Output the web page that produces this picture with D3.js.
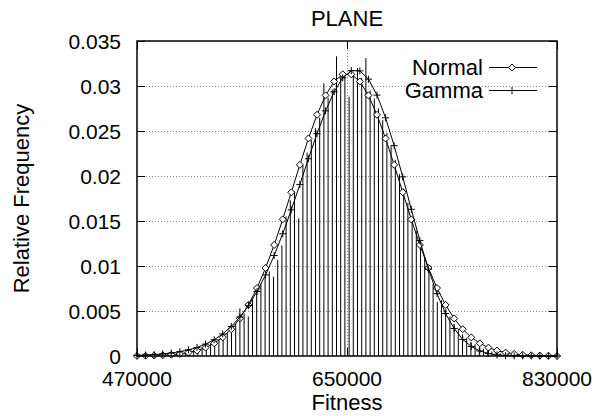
<!DOCTYPE html>
<html>
<head>
<meta charset="utf-8">
<script src="https://cdn.jsdelivr.net/npm/d3@7"></script>
<style>
  body { margin: 0; background: #fff; }
  text { font-family: "Liberation Sans", Arial, Helvetica, sans-serif; fill: #000; }
</style>
</head>
<body>
<svg id="chart" width="610" height="416"></svg>
<script>
// Fitness histogram (relative frequency per bin) with fitted Normal / Gamma curves.

const title  = 'PLANE';
const xLabel = 'Fitness';
const yLabel = 'Relative Frequency';

const xDomain = [470000, 830000];
const yDomain = [0, 0.035];
const xTicks  = [470000, 650000, 830000];
const yTicks  = [0, 0.005, 0.01, 0.015, 0.02, 0.025, 0.03, 0.035];
const yTickLabels = ['0', '0.005', '0.01', '0.015', '0.02', '0.025', '0.03', '0.035'];

// histogram bins: first bin centre and width
const binFirst = 471800;
const binWidth = 3600;
const histValues = [
  0.00005, 0.00006, 0.00008, 0.0001, 0.00011, 0.00014, 0.00016, 0.0002, 0.00026, 0.0003,
  0.00038, 0.00045, 0.00056, 0.00068, 0.0008, 0.00095, 0.0012, 0.0014, 0.0017, 0.0019,
  0.0023, 0.0027, 0.0032, 0.0036, 0.0053, 0.0047, 0.0044, 0.0064, 0.0077, 0.0080,
  0.0088, 0.0094, 0.0088, 0.0107, 0.0123, 0.0155, 0.0173, 0.0183, 0.0153, 0.0212,
  0.0226, 0.0240, 0.0253, 0.0265, 0.0303, 0.0287, 0.0296, 0.0333, 0.0309, 0.0312,
  0.0288, 0.0314, 0.0320, 0.0309, 0.0331, 0.0295, 0.0286, 0.0275, 0.0262, 0.0248,
  0.0233, 0.0218, 0.0202, 0.0186, 0.0170, 0.0154, 0.0139, 0.0124, 0.0110, 0.0096,
  0.0080, 0.0060, 0.0062, 0.0052, 0.0044, 0.0036, 0.0030, 0.0024, 0.0020, 0.0016,
  0.0013, 0.0010, 0.0008, 0.0006, 0.0005, 0.0004, 0.0003, 0.00025, 0.0002, 0.00015,
  0.0001, 0.00008, 0.00006, 0.00005, 0.00004, 0.00003, 0.00002, 0.00002, 0.00001, 0.00001
];

// fitted curves, 50 samples across the x range
const curveSamples = 50;
const normalValues = [
  0.00001, 0.00003, 0.00005, 0.00008, 0.00014, 0.00023, 0.00038, 0.00060, 0.00093, 0.00141,
  0.00207, 0.00298, 0.00417, 0.00568, 0.00755, 0.00978, 0.01234, 0.01518, 0.01819, 0.02124,
  0.02417, 0.02680, 0.02896, 0.03050, 0.03130, 0.03130, 0.03050, 0.02896, 0.02680, 0.02417,
  0.02124, 0.01819, 0.01518, 0.01234, 0.00978, 0.00755, 0.00568, 0.00417, 0.00298, 0.00207,
  0.00141, 0.00093, 0.00060, 0.00038, 0.00023, 0.00014, 0.00008, 0.00005, 0.00003, 0.00001
];
const gammaValues = [
  0.00007, 0.00011, 0.00016, 0.00023, 0.00033, 0.00048, 0.00068, 0.00095, 0.00132, 0.00181,
  0.00245, 0.00328, 0.00432, 0.00560, 0.00716, 0.00901, 0.01116, 0.01358, 0.01624, 0.01905,
  0.02192, 0.02470, 0.02724, 0.02936, 0.03090, 0.03171, 0.03168, 0.03076, 0.02899, 0.02647,
  0.02337, 0.01990, 0.01630, 0.01282, 0.00965, 0.00693, 0.00472, 0.00305, 0.00185, 0.00106,
  0.00056, 0.00028, 0.00012, 0.00005, 0.00002, 0.00001, 0, 0, 0, 0
];

const seriesNames = ['Normal', 'Gamma'];

// ─── Layout ───────────────────────────────────────────────────────────────
const plot = { left: 137, right: 557, top: 41, bottom: 356 };
const fontSize = 22;
const tickFontSize = 21;

const svg = d3.select('#chart');

const x = d3.scaleLinear().domain(xDomain).range([plot.left, plot.right]);
const y = d3.scaleLinear().domain(yDomain).range([plot.bottom, plot.top]);

const sampleX = d3.range(curveSamples)
  .map(k => xDomain[0] + k * (xDomain[1] - xDomain[0]) / (curveSamples - 1));

// ─── Grid (dotted) ────────────────────────────────────────────────────────
const gGrid = svg.append('g')
  .attr('stroke', '#888')
  .attr('stroke-width', 1)
  .attr('stroke-dasharray', '1,2');

gGrid.selectAll('line.h')
  .data(yTicks.slice(1, -1))
  .join('line')
  .attr('class', 'h')
  .attr('x1', plot.left).attr('x2', plot.right)
  .attr('y1', d => Math.round(y(d)) + 0.5).attr('y2', d => Math.round(y(d)) + 0.5);

gGrid.selectAll('line.v')
  .data(xTicks.slice(1, -1))
  .join('line')
  .attr('class', 'v')
  .attr('x1', d => Math.round(x(d)) + 0.5).attr('x2', d => Math.round(x(d)) + 0.5)
  .attr('y1', plot.top).attr('y2', plot.bottom);

// ─── Histogram impulses ───────────────────────────────────────────────────
svg.append('g')
  .attr('stroke', '#000')
  .attr('stroke-width', 1)
  .selectAll('line')
  .data(histValues)
  .join('line')
  .attr('x1', (d, i) => x(binFirst + i * binWidth))
  .attr('x2', (d, i) => x(binFirst + i * binWidth))
  .attr('y1', y(0))
  .attr('y2', d => y(d));

// ─── Curves ───────────────────────────────────────────────────────────────
const line = d3.line()
  .x((d, i) => x(sampleX[i]))
  .y(d => y(d));

const diamond = 'M0,-3.5L3.5,0L0,3.5L-3.5,0Z';
const plus    = 'M-3.5,0H3.5M0,-3.5V3.5';

[normalValues, gammaValues].forEach((vals, s) => {
  svg.append('path')
    .datum(vals)
    .attr('fill', 'none')
    .attr('stroke', '#000')
    .attr('stroke-width', 1)
    .attr('d', line);

  svg.append('g')
    .selectAll('path')
    .data(vals)
    .join('path')
    .attr('transform', (d, i) => `translate(${x(sampleX[i])},${y(d)})`)
    .attr('d', s === 0 ? diamond : plus)
    .attr('fill', s === 0 ? '#fff' : 'none')
    .attr('stroke', '#000')
    .attr('stroke-width', 1);
});

// ─── Border + ticks ───────────────────────────────────────────────────────
svg.append('rect')
  .attr('x', plot.left).attr('y', plot.top)
  .attr('width', plot.right - plot.left)
  .attr('height', plot.bottom - plot.top)
  .attr('fill', 'none')
  .attr('stroke', '#000')
  .attr('stroke-width', 1.5);

const tickLen = 8;
const gTicks = svg.append('g').attr('stroke', '#000').attr('stroke-width', 1);

yTicks.forEach(v => {
  const yy = Math.round(y(v)) + 0.5;
  gTicks.append('line').attr('x1', plot.left).attr('x2', plot.left + tickLen).attr('y1', yy).attr('y2', yy);
  gTicks.append('line').attr('x1', plot.right).attr('x2', plot.right - tickLen).attr('y1', yy).attr('y2', yy);
});
xTicks.forEach(v => {
  const xx = Math.round(x(v)) + 0.5;
  gTicks.append('line').attr('x1', xx).attr('x2', xx).attr('y1', plot.bottom).attr('y2', plot.bottom - tickLen);
  gTicks.append('line').attr('x1', xx).attr('x2', xx).attr('y1', plot.top).attr('y2', plot.top + tickLen);
});

// ─── Tick labels ──────────────────────────────────────────────────────────
svg.append('g')
  .selectAll('text')
  .data(yTicks)
  .join('text')
  .attr('x', plot.left - 16)
  .attr('y', d => y(d))
  .attr('text-anchor', 'end')
  .attr('dominant-baseline', 'central')
  .style('font-size', tickFontSize + 'px')
  .text((d, i) => yTickLabels[i]);

svg.append('g')
  .selectAll('text')
  .data(xTicks)
  .join('text')
  .attr('x', d => x(d))
  .attr('y', 385.5)
  .attr('text-anchor', 'middle')
  .style('font-size', tickFontSize + 'px')
  .text(d => d3.format('d')(d));

// ─── Titles ───────────────────────────────────────────────────────────────
svg.append('text')
  .attr('x', (plot.left + plot.right) / 2)
  .attr('y', 26)
  .attr('text-anchor', 'middle')
  .style('font-size', fontSize + 'px')
  .text(title);

svg.append('text')
  .attr('x', (plot.left + plot.right) / 2)
  .attr('y', 410)
  .attr('text-anchor', 'middle')
  .style('font-size', fontSize + 'px')
  .text(xLabel);

svg.append('text')
  .attr('transform', `translate(29,${(plot.top + plot.bottom) / 2}) rotate(-90)`)
  .attr('text-anchor', 'middle')
  .style('font-size', fontSize + 'px')
  .text(yLabel);

// ─── Legend ───────────────────────────────────────────────────────────────
const legend = svg.append('g');
seriesNames.forEach((name, s) => {
  const ly = 67 + s * 23;
  legend.append('text')
    .attr('x', 483)
    .attr('y', ly)
    .attr('text-anchor', 'end')
    .attr('dominant-baseline', 'central')
    .style('font-size', fontSize + 'px')
    .text(name);
  legend.append('line')
    .attr('x1', 489).attr('x2', 537)
    .attr('y1', ly + 0.5).attr('y2', ly + 0.5)
    .attr('stroke', '#000').attr('stroke-width', 1);
  legend.append('path')
    .attr('transform', `translate(512,${ly + 0.5})`)
    .attr('d', s === 0 ? diamond : plus)
    .attr('fill', s === 0 ? '#fff' : 'none')
    .attr('stroke', '#000')
    .attr('stroke-width', 1);
});
</script>
</body>
</html>
